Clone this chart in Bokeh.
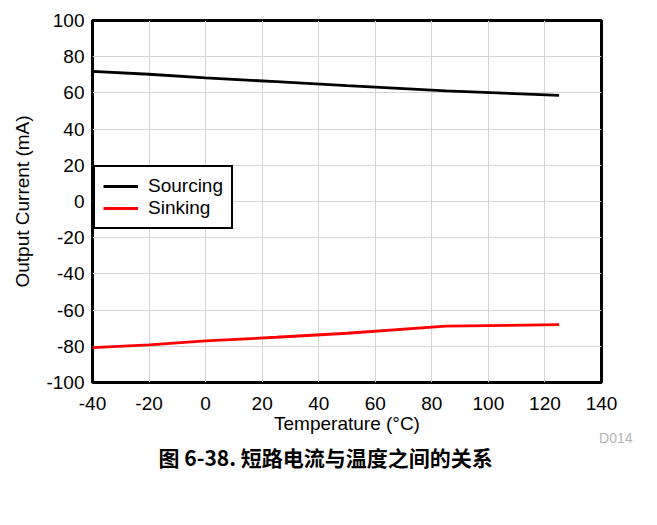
from bokeh.plotting import figure
from bokeh.models import Range1d, FixedTicker, Legend, LegendItem, Title
from bokeh.embed import file_html
from bokeh.resources import INLINE

# Data
temperature = [-40, -20, 0, 25, 50, 85, 125]
sourcing = [71.9, 70.3, 68.3, 66.2, 64.0, 61.1, 58.6]
sinking = [-80.7, -79.2, -77.0, -75.0, -72.8, -68.9, -68.0]

x_ticks = [-40, -20, 0, 20, 40, 60, 80, 100, 120, 140]
y_ticks = [-100, -80, -60, -40, -20, 0, 20, 40, 60, 80, 100]

FONT = "Liberation Sans"

p = figure(width=641, height=509, output_backend="svg", toolbar_location=None,
           x_range=Range1d(-40, 140), y_range=Range1d(-100, 100),
           min_border_left=92, min_border_right=40, min_border_top=20, min_border_bottom=127)

p.outline_line_color = "black"
p.outline_line_width = 3
p.background_fill_color = "white"
p.border_fill_color = "white"

for ax in (p.xaxis[0], p.yaxis[0]):
    ax.axis_line_color = None
    ax.major_tick_line_color = None
    ax.minor_tick_line_color = None
    ax.major_tick_out = 0
    ax.major_tick_in = 0
    ax.major_label_text_font = FONT
    ax.major_label_text_font_size = "19px"
    ax.major_label_text_color = "black"
    ax.axis_label_text_font = FONT
    ax.axis_label_text_font_size = "19px"
    ax.axis_label_text_font_style = "normal"
    ax.axis_label_text_color = "black"

p.xaxis.ticker = FixedTicker(ticks=x_ticks)
p.yaxis.ticker = FixedTicker(ticks=y_ticks)
p.xaxis.major_label_overrides = {t: str(t) for t in x_ticks}
p.yaxis.major_label_overrides = {t: str(t) for t in y_ticks}
p.xaxis.axis_label = "Temperature (°C)"
p.yaxis.axis_label = "Output Current (mA)"
p.xaxis.major_label_standoff = 14
p.xaxis.axis_label_standoff = 0
p.yaxis.major_label_standoff = 8
p.yaxis.axis_label_standoff = 10

p.xgrid.ticker = FixedTicker(ticks=x_ticks)
p.ygrid.ticker = FixedTicker(ticks=y_ticks)
for g in (p.xgrid[0], p.ygrid[0]):
    g.grid_line_color = "#d4d4d4"
    g.grid_line_width = 1

r1 = p.line(temperature, sourcing, line_color="black", line_width=2.8)
r2 = p.line(temperature, sinking, line_color="#ff0000", line_width=2.8)

legend = Legend(items=[LegendItem(label="Sourcing", renderers=[r1]),
                       LegendItem(label="Sinking", renderers=[r2])],
                location=(1, 153), orientation="vertical",
                border_line_color="black", border_line_width=2.5, border_line_alpha=1.0,
                background_fill_color="white", background_fill_alpha=1.0,
                label_text_font=FONT, label_text_font_size="19px",
                label_text_color="black",
                glyph_width=35, glyph_height=20, label_standoff=10,
                padding=8, spacing=0, margin=0)
p.add_layout(legend, "center")

tag = Title(text="D014", align="right", text_font=FONT, text_font_size="14px",
            text_color="#b4b4b4", text_font_style="normal", offset=-31, standoff=-17)
p.add_layout(tag, "below")

caption = Title(text="图 6-38. 短路电流与温度之间的关系", align="left",
                text_font="Noto Sans CJK SC", text_font_size="21px",
                text_font_style="bold", text_color="black", offset=66, standoff=4)
p.add_layout(caption, "below")

open("out.html", "w").write(file_html(p, INLINE))
